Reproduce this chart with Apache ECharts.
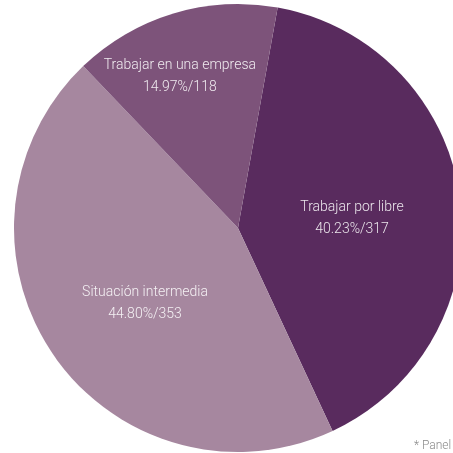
<!DOCTYPE html>
<html>
<head>
<meta charset="utf-8">
<script src="https://cdn.jsdelivr.net/npm/echarts@6/dist/echarts.min.js"></script>
<style>
  html, body { margin: 0; padding: 0; background: #ffffff; }
  #chart { width: 453px; height: 453px; }
</style>
</head>
<body>
<div id="chart"></div>
<script>
// Preferencia laboral (respuestas del panel)
const categories = ['Trabajar por libre', 'Situación intermedia', 'Trabajar en una empresa'];
const counts = [317, 353, 118];
const sliceColors = ['#592b5e', '#a6879f', '#7d537a'];
const labelOffsets = [[0, 5], [2, 11], [-25, -41]];

const chart = echarts.init(document.getElementById('chart'), null, { renderer: 'canvas' });

const data = categories.map((name, i) => ({
  name: name,
  value: counts[i],
  itemStyle: { color: sliceColors[i] },
  label: { offset: labelOffsets[i] }
}));

chart.setOption({
  animation: false,
  backgroundColor: '#ffffff',
  series: [{
    type: 'pie',
    center: [238, 228],
    radius: 224,
    startAngle: 79.8,
    clockwise: true,
    percentPrecision: 2,
    avoidLabelOverlap: false,
    itemStyle: { borderWidth: 0 },
    label: {
      show: true,
      position: 'inside',
      formatter: p => p.name + '\n' + p.percent.toFixed(2) + '%/' + p.value,
      color: 'rgba(255,255,255,0.88)',
      fontFamily: 'Roboto',
      fontWeight: 300,
      fontSize: 14,
      lineHeight: 22
    },
    labelLine: { show: false },
    emphasis: { disabled: true },
    data: data
  }],
  graphic: [{
    type: 'text',
    left: 414,
    top: 440,
    style: {
      text: '* Panel',
      fill: '#8a8a8a',
      font: '300 12px Roboto'
    }
  }]
});
</script>
</body>
</html>
